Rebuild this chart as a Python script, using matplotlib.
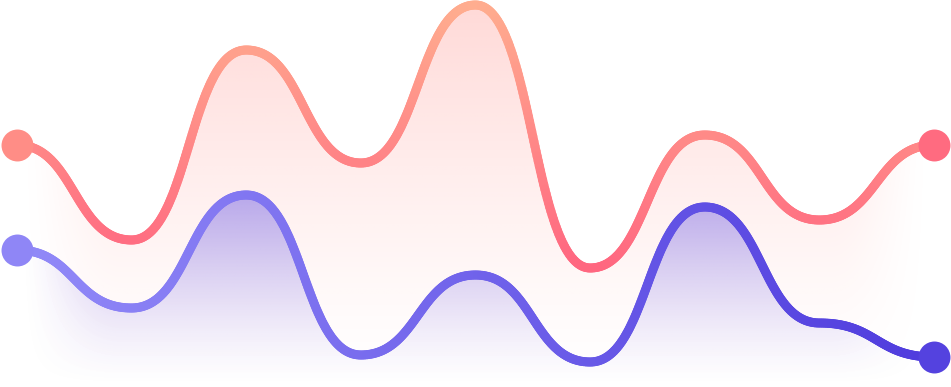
"""Two smooth wave lines with gradient fills, no axes"""

import numpy as np
import matplotlib
matplotlib.use('Agg')
import matplotlib.pyplot as plt
from matplotlib.collections import LineCollection
from matplotlib.colors import to_rgb
from matplotlib.patches import Polygon

# Data: nine evenly spaced points per series (values in 0..387 scale)
steps = list(range(9))
red_values = [242, 147, 337, 224, 382, 119, 252, 167, 242]
purple_values = [137, 79, 192, 32, 112, 25, 180, 64, 30]

Y_MAX = 387


def bump_x(x, y, n=80):
    """S-shaped cubic between points, flat at every point (d3 curveBumpX style)"""
    xs, ys = [], []
    for i in range(len(x) - 1):
        x0, x1, y0, y1 = x[i], x[i + 1], y[i], y[i + 1]
        xm = (x0 + x1) / 2
        t = np.linspace(0, 1, n, endpoint=(i == len(x) - 2))
        b0, b1, b2, b3 = (1 - t)**3, 3 * t * (1 - t)**2, 3 * t**2 * (1 - t), t**3
        xs.append(b0 * x0 + b1 * xm + b2 * xm + b3 * x1)
        ys.append(b0 * y0 + b1 * y0 + b2 * y1 + b3 * y1)
    return np.concatenate(xs), np.concatenate(ys)


def lerp_colors(c0, c1, t):
    c0, c1 = np.array(to_rgb(c0)), np.array(to_rgb(c1))
    t = np.clip(np.asarray(t), 0, 1)[..., None]
    return c0 * (1 - t) + c1 * t


def gradient_fill(ax, xs, ys, color, a_top, extent):
    x0, x1, y0, y1 = extent
    nx, ny = 400, 200
    gx = np.linspace(x0, x1, nx)
    gy = np.linspace(y1, y0, ny)
    top = ys.max()
    vert = np.clip(gy / top, 0, 1) ** 1.3
    # fade towards left and right edges
    fade_w = 0.9
    hx = np.clip((gx - xs[0]) / fade_w, 0, 1) * np.clip((xs[-1] - gx) / fade_w, 0, 1)
    hx = hx * hx * (3 - 2 * hx)
    alpha = a_top * vert[:, None] * hx[None, :]
    img = np.zeros((ny, nx, 4))
    img[..., :3] = to_rgb(color)
    img[..., 3] = alpha
    im = ax.imshow(img, extent=extent, aspect='auto', origin='upper',
                   interpolation='bilinear', zorder=1)
    poly = Polygon(np.column_stack([np.r_[xs, xs[-1], xs[0]], np.r_[ys, 0, 0]]),
                   closed=True, facecolor='none', edgecolor='none')
    ax.add_patch(poly)
    im.set_clip_path(poly)


def gradient_line(ax, xs, ys, colors, lw, z):
    pts = np.column_stack([xs, ys]).reshape(-1, 1, 2)
    segs = np.concatenate([pts[:-1], pts[1:]], axis=1)
    lc = LineCollection(segs, colors=colors, linewidths=lw, capstyle='round',
                        joinstyle='round', zorder=z)
    ax.add_collection(lc)


fig = plt.figure(figsize=(9.51, 3.87), dpi=100)
ax = fig.add_axes([0, 0, 1, 1])
px = 114.625  # pixels per step
x_lo, x_hi = -17 / px, (951 - 17) / px
ax.set_xlim(x_lo, x_hi)
ax.set_ylim(0, Y_MAX)
ax.axis('off')
extent = (x_lo, x_hi, 0, Y_MAX)

rx, ry = bump_x(steps, red_values)
bx, by = bump_x(steps, purple_values)

gradient_fill(ax, rx, ry, '#ff8a84', 0.32, extent)
gradient_fill(ax, bx, by, '#6b5ae6', 0.48, extent)

lw = 6.5
# red line: orange at the top, pink lower down
red_cols = lerp_colors('#ffae8f', '#ff6680', (Y_MAX - ry[:-1]) / 270)
gradient_line(ax, rx, ry, red_cols, lw, 3)
# purple line: light on the left, deep on the right
purple_cols = lerp_colors('#928af8', '#4f3cdd', bx[:-1] / 8)
gradient_line(ax, bx, by, purple_cols, lw, 4)

dot = 23
ax.plot(steps[0], red_values[0], 'o', ms=dot, color='#ff8d86', mec='none', zorder=5)
ax.plot(steps[-1], red_values[-1], 'o', ms=dot, color='#ff6b80', mec='none', zorder=5)
ax.plot(steps[0], purple_values[0], 'o', ms=dot, color='#8f86f6', mec='none', zorder=5)
ax.plot(steps[-1], purple_values[-1], 'o', ms=dot, color='#5442df', mec='none', zorder=5)

plt.savefig('out.png', dpi=100)
